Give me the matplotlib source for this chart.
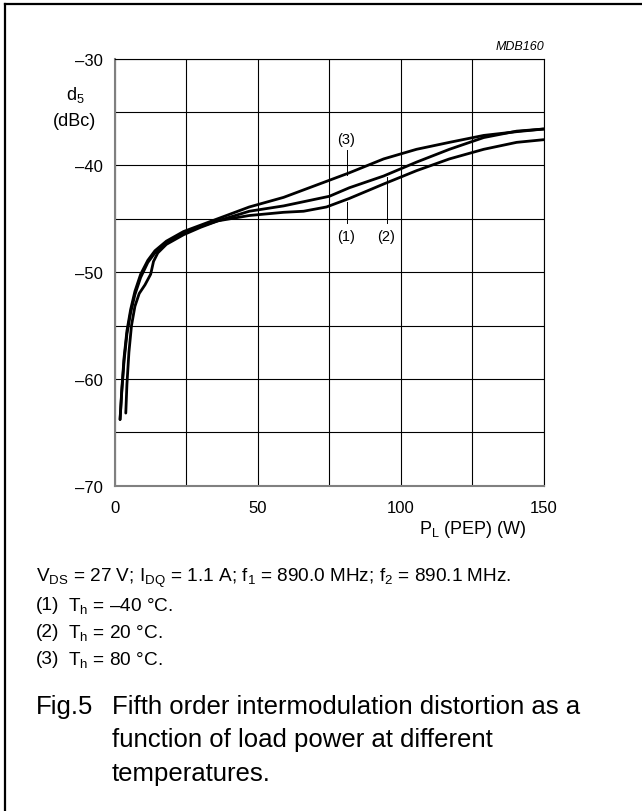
import matplotlib.pyplot as plt
from matplotlib.lines import Line2D

plt.rcParams['font.family'] = ['Liberation Sans', 'DejaVu Sans']
plt.rcParams['mathtext.fontset'] = 'custom'
plt.rcParams['mathtext.rm'] = 'Liberation Sans'

# curve data (P_L in W, d5 in dBc)
x_80 = [1.8, 2.4, 3.2, 4.2, 5.5, 7, 9, 11.5, 14, 18, 24, 30, 36, 47, 59, 75, 82, 94, 105.5, 117, 129, 140.5, 150]
d5_80 = [-63.8, -61, -58, -55.5, -53.5, -51.8, -50.2, -48.9, -48.0, -47.1, -46.2, -45.6, -45.0,
         -43.9, -43.0, -41.4, -40.7, -39.4, -38.5, -37.85, -37.2, -36.85, -36.6]
x_20 = [1.8, 2.4, 3.2, 4.2, 5.5, 7, 9, 11.5, 14, 18, 24, 30, 36, 47, 59, 75, 82, 94, 105.5, 117, 129, 140.5, 150]
d5_20 = [-63.8, -61.2, -58.3, -55.8, -53.8, -52.1, -50.5, -49.1, -48.2, -47.3, -46.4, -45.7, -45.2,
         -44.3, -43.8, -42.9, -42.1, -41.0, -39.7, -38.5, -37.4, -36.8, -36.6]
x_m40 = [3.8, 4.2, 4.9, 5.8, 7, 8.5, 10.5, 12.5, 13.5, 15, 18, 24, 30, 36, 47, 59, 66, 74, 82, 94,
         105.5, 117, 129, 140.5, 150]
d5_m40 = [-63.2, -60.5, -57.5, -55.0, -53.2, -52.0, -51.2, -50.2, -49.0, -48.2, -47.4, -46.5, -45.8,
          -45.2, -44.7, -44.4, -44.3, -43.9, -43.1, -41.75, -40.5, -39.4, -38.5, -37.85, -37.6]

x_ticks = [0, 50, 100, 150]
y_ticks = [-70, -60, -50, -40, -30]
y_tick_labels = ['\u201370', '\u201360', '\u201350', '\u201340', '\u201330']

fig = plt.figure(figsize=(6.42, 8.12), dpi=100)
ax = fig.add_axes([0.179, 0.4006, 0.668, 0.5261])

for xs, ys in [(x_m40, d5_m40), (x_20, d5_20), (x_80, d5_80)]:
    ax.plot(xs, ys, color='black', lw=2.0, solid_joinstyle='round', solid_capstyle='round', zorder=3)

ax.set_xlim(0, 150)
ax.set_ylim(-70, -30)
ax.set_xticks(x_ticks)
ax.set_xticklabels([str(v) for v in x_ticks])
ax.set_yticks(y_ticks)
ax.set_yticklabels(y_tick_labels)
ax.set_xticks(range(0, 151, 25), minor=True)
ax.set_yticks(range(-70, -29, 5), minor=True)
ax.grid(which='both', color='black', lw=0.8)
ax.tick_params(which='both', length=0, labelsize=12)
ax.tick_params(axis='y', pad=9)
ax.tick_params(axis='x', pad=10)
for s in ['top', 'right']:
    ax.spines[s].set_color('black')
    ax.spines[s].set_linewidth(0.8)
for s in ['left', 'bottom']:
    ax.spines[s].set_color('#808080')
    ax.spines[s].set_linewidth(1.5)

# curve labels with leader lines
ax.plot([81, 81], [-38.6, -40.9], color='black', lw=0.7)
ax.text(81, -37.5, '(3)', ha='center', va='center', fontsize=10.5)
ax.plot([81, 81], [-43.4, -45.4], color='black', lw=0.7)
ax.text(81, -46.6, '(1)', ha='center', va='center', fontsize=10.5)
ax.plot([95, 95], [-41.1, -45.4], color='black', lw=0.7)
ax.text(95, -46.6, '(2)', ha='center', va='center', fontsize=10.5)

def fx(px):
    return px / 642

def fy(py):
    return 1 - py / 812

fig.text(fx(544), fy(47), 'MDB160', ha='right', va='center', fontsize=9, style='italic')
fig.text(fx(75), fy(95), r'$\mathregular{d_5}$', ha='center', va='center', fontsize=13)
fig.text(fx(74), fy(121), '(dBc)', ha='center', va='center', fontsize=13)
fig.text(fx(527), fy(530), r'$\mathregular{P_L}$ (PEP) (W)', ha='right', va='center', fontsize=13)

fig.text(fx(36), fy(578), r'$\mathregular{V_{DS}}$ = 27 V; $\mathregular{I_{DQ}}$ = 1.1 A; '
         r'$\mathregular{f_1}$ = 890.0 MHz; $\mathregular{f_2}$ = 890.1 MHz.',
         ha='left', va='center', fontsize=13.7)
notes = [('(1)', '\u201340 \u00b0C.'), ('(2)', '20 \u00b0C.'), ('(3)', '80 \u00b0C.')]
for i, (num, val) in enumerate(notes):
    y = 606 + i * 27
    fig.text(fx(36), fy(y), num, ha='left', va='center', fontsize=13.7)
    fig.text(fx(68), fy(y), r'$\mathregular{T_h}$ = ' + val, ha='left', va='center', fontsize=13.7)

fig.text(fx(36), fy(707), 'Fig.5', ha='left', va='center', fontsize=18.5)
caption = ['Fifth order intermodulation distortion as a', 'function of load power at different',
           'temperatures.']
for i, line in enumerate(caption):
    fig.text(fx(112), fy(707 + i * 33.5), line, ha='left', va='center', fontsize=18.5)

# frame around the figure (top and left edges)
fig.add_artist(Line2D([fx(5), 1], [fy(5), fy(5)], color='black', lw=1.6))
fig.add_artist(Line2D([fx(5), fx(5)], [0, fy(5)], color='black', lw=1.6))

fig.savefig('out.png', dpi=100)
